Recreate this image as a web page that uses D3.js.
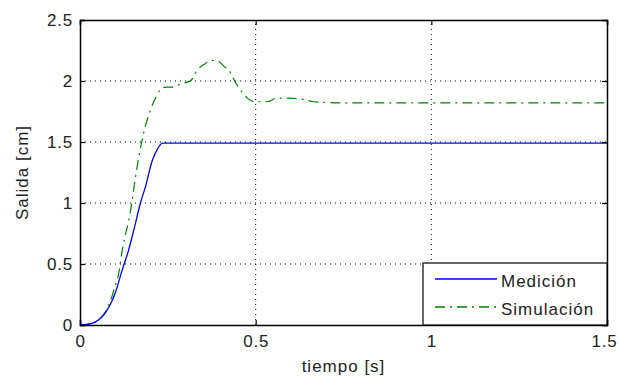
<!DOCTYPE html>
<html>
<head>
<meta charset="utf-8">
<script src="https://cdn.jsdelivr.net/npm/d3@7"></script>
<style>
  body { margin: 0; background: #fff; }
  text { font-family: "Liberation Sans", Arial, sans-serif; }
</style>
</head>
<body>
<div id="chart"></div>
<script>
// Medición (blue) and Simulación (green)
const medT = [0, 0.02, 0.04, 0.06, 0.072, 0.09, 0.1, 0.12, 0.138, 0.155, 0.172, 0.186, 0.206, 0.22, 0.235, 0.3, 0.6, 1.0, 1.5];
const medY = [0, 0.005, 0.02, 0.06, 0.1, 0.19, 0.26, 0.45, 0.61, 0.8, 1.0, 1.13, 1.35, 1.44, 1.49, 1.49, 1.49, 1.49, 1.49];

const simT = [0, 0.02, 0.04, 0.06, 0.075, 0.087, 0.1, 0.11, 0.12, 0.143, 0.16, 0.177, 0.2, 0.215, 0.229, 0.245, 0.265, 0.29, 0.314, 0.334, 0.355, 0.371, 0.394, 0.41, 0.428, 0.442, 0.456, 0.476, 0.499, 0.533, 0.56, 0.59, 0.636, 0.665, 0.75, 1.0, 1.5];
const simY = [0, 0.005, 0.02, 0.06, 0.12, 0.2, 0.32, 0.42, 0.61, 0.92, 1.25, 1.52, 1.76, 1.86, 1.93, 1.95, 1.95, 1.98, 2.0, 2.09, 2.14, 2.17, 2.16, 2.12, 2.07, 1.99, 1.93, 1.86, 1.83, 1.83, 1.86, 1.86, 1.85, 1.83, 1.82, 1.82, 1.82];

const xTicks = [0, 0.5, 1, 1.5];
const yTicks = [0, 0.5, 1, 1.5, 2, 2.5];
const legendNames = ["Medición", "Simulación"];

const W = 619, H = 381;
const margin = { top: 20, right: 12, bottom: 56, left: 80 };

const svg = d3.select("#chart").append("svg")
  .attr("width", W).attr("height", H);

const x = d3.scaleLinear().domain([0, 1.5]).range([margin.left, W - margin.right]);
const y = d3.scaleLinear().domain([0, 2.5]).range([H - margin.bottom, margin.top]);

// grid
svg.append("g").selectAll("line")
  .data(xTicks.slice(1, -1))
  .join("line")
  .attr("x1", d => x(d)).attr("x2", d => x(d))
  .attr("y1", y(0)).attr("y2", y(2.5))
  .attr("stroke", "#000").attr("stroke-width", 1)
  .attr("stroke-dasharray", "1,4");
svg.append("g").selectAll("line")
  .data(yTicks.slice(1, -1))
  .join("line")
  .attr("x1", x(0)).attr("x2", x(1.5))
  .attr("y1", d => y(d)).attr("y2", d => y(d))
  .attr("stroke", "#000").attr("stroke-width", 1)
  .attr("stroke-dasharray", "1,4");

// lines
const line = (ts, ys) => d3.line()
  .x((d, i) => x(ts[i]))
  .y((d, i) => y(ys[i]))
  .curve(d3.curveMonotoneX)(ys);

svg.append("path")
  .attr("d", line(simT, simY))
  .attr("fill", "none").attr("stroke", "#008000").attr("stroke-width", 1.2)
  .attr("stroke-dasharray", "10,5,2,5");

svg.append("path")
  .attr("d", line(medT, medY))
  .attr("fill", "none").attr("stroke", "#0000ff").attr("stroke-width", 1.3);

// axes (ticks inward, box)
const xAxis = d3.axisBottom(x).tickValues(xTicks).tickSize(-5).tickPadding(10).tickFormat(d3.format("~g"));
const yAxis = d3.axisLeft(y).tickValues(yTicks).tickSize(-5).tickPadding(7).tickFormat(d3.format("~g"));

const gx = svg.append("g").attr("transform", `translate(0,${y(0)})`).call(xAxis);
const gy = svg.append("g").attr("transform", `translate(${x(0)},0)`).call(yAxis);
svg.append("g").attr("transform", `translate(0,${y(2.5)})`)
  .call(d3.axisTop(x).tickValues(xTicks).tickSize(-5).tickFormat(""));
svg.append("g").attr("transform", `translate(${x(1.5)},0)`)
  .call(d3.axisRight(y).tickValues(yTicks).tickSize(-5).tickFormat(""));

svg.selectAll(".domain").attr("stroke", "#000").attr("stroke-width", 1.5);
svg.selectAll(".tick line").attr("stroke", "#000").attr("stroke-width", 1.2);
[gx, gy].forEach(g => g.selectAll("text")
  .attr("font-size", 17).attr("fill", "#222")
  .attr("letter-spacing", 0.8)
  .style("font-family", '"Liberation Sans", Arial, sans-serif'));
// keep the last x label inside the window
gx.selectAll("text").filter(d => d === 1.5).attr("dx", -3);

// axis labels
svg.append("text")
  .attr("x", x(0.75)).attr("y", 372)
  .attr("text-anchor", "middle").attr("font-size", 17).attr("fill", "#222")
  .attr("letter-spacing", 1)
  .text("tiempo [s]");
svg.append("text")
  .attr("transform", `translate(28,${y(1.25)}) rotate(-90)`)
  .attr("text-anchor", "middle").attr("font-size", 17).attr("fill", "#222")
  .attr("letter-spacing", 1)
  .text("Salida [cm]");

// legend
const lg = svg.append("g");
const lx0 = 423, ly0 = 263;
lg.append("rect")
  .attr("x", lx0).attr("y", ly0)
  .attr("width", x(1.5) - lx0).attr("height", y(0) - ly0)
  .attr("fill", "#fff").attr("stroke", "#000").attr("stroke-width", 1.2);
const legendColors = ["#0000ff", "#008000"];
const legendDash = [null, "10,5,2,5"];
legendNames.forEach((name, i) => {
  const yy = ly0 + 16 + i * 28;
  lg.append("line")
    .attr("x1", 435).attr("x2", 497).attr("y1", yy).attr("y2", yy)
    .attr("stroke", legendColors[i]).attr("stroke-width", 1.3)
    .attr("stroke-dasharray", legendDash[i]);
  lg.append("text")
    .attr("x", 501).attr("y", yy + 8)
    .attr("font-size", 17).attr("fill", "#222")
    .attr("letter-spacing", 1)
    .text(name);
});
</script>
</body>
</html>
